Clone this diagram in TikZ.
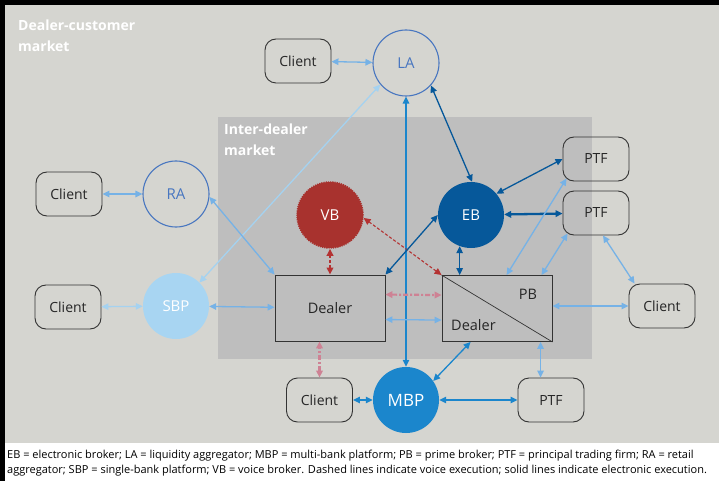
\documentclass[tikz,border=0pt]{standalone}
\usepackage{fontspec}
\setmainfont{Open Sans}
\usetikzlibrary{arrows.meta,calc}
\definecolor{outergray}{RGB}{213,213,208}
\definecolor{innergray}{RGB}{190,190,190}
\definecolor{ebblue}{RGB}{6,88,154}
\definecolor{mbpblue}{RGB}{27,134,204}
\definecolor{sbpblue}{RGB}{168,213,242}
\definecolor{lablue}{RGB}{72,118,192}
\definecolor{arrblue}{RGB}{118,178,230}
\definecolor{paleblue}{RGB}{165,210,240}
\definecolor{vbred}{RGB}{168,50,46}
\definecolor{voicered}{RGB}{180,50,50}
\definecolor{voicepink}{RGB}{206,130,148}
\tikzset{client/.style={draw=black!80,line width=0.9pt,rounded corners=11pt,minimum width=66pt,minimum height=44pt,
    inner sep=0pt,font=\fontsize{14}{16}\selectfont,text=black!85},
  hub/.style={circle,minimum size=66pt,inner sep=0pt,font=\fontsize{15}{17}\selectfont},
  ring/.style={hub,draw=lablue,line width=1.1pt,text=lablue},
  hubfill/.style={hub,text=white},
  vb/.style={hubfill,fill=vbred,draw=vbred,line width=1.5pt,dash pattern=on 1.2pt off 1pt},
  dealerbox/.style={draw=black!80,line width=0.9pt,fill=innergray,minimum width=110pt,minimum height=66pt,
    inner sep=0pt,font=\fontsize{14.5}{16}\selectfont,text=black!85},
  market/.style={font=\bfseries\fontsize{14}{20.5}\selectfont,text=white,align=left,anchor=north west,inner sep=0pt},
  caption/.style={anchor=west,inner sep=0pt,font=\fontsize{11}{12}\selectfont,text=black},
  link/.style={{Triangle[length=7pt,width=6.5pt]}-{Triangle[length=7pt,width=6.5pt]},line width=1.3pt},
  voice/.style={link,line width=2pt,dash pattern=on 3pt off 2pt},
  voicedash/.style={link,line width=2.2pt,dash pattern=on 5pt off 2pt on 2pt off 2pt}}

\begin{document}
\begin{tikzpicture}[x=1pt,y=-1pt]
\useasboundingbox (0,0) rectangle (719,481);
\fill[black] (0,0) rectangle (719,481);
\fill[white] (5,5) rectangle (719,481);
\fill[outergray] (5,5) rectangle (719,443);
\fill[innergray] (218,117) rectangle (592,359);
\node[market] (dc) at (18,20) {Dealer-customer\\market};
\node[market] (id) at (224,124) {Inter-dealer\\market};
% platforms and brokers
\node[client] (cl1) at (298,61) {Client};
\node[ring] (LA) at (406,63) {LA};
\node[client] (cl2) at (69,194) {Client};
\node[ring] (RA) at (176,194) {RA};
\node[vb] (VB) at (330,215) {VB};
\node[hubfill,fill=ebblue] (EB) at (471,215) {EB};
\node[client] (ptf1) at (596,159) {PTF};
\node[client] (ptf2) at (596,213) {PTF};
\node[client] (cl3) at (68,307) {Client};
\node[hubfill,fill=sbpblue] (SBP) at (176,306) {SBP};
\node[dealerbox] (D) at (330,308) {Dealer};
\node[dealerbox] (PB) at (497,308.5) {};
\draw[black!80,line width=0.7pt] (PB.north west) -- (PB.south east);
\node[font=\fontsize{14.5}{16}\selectfont,text=black!85] (pbl) at (528,294) {PB};
\node[font=\fontsize{14.5}{16}\selectfont,text=black!85,anchor=west,inner sep=0pt] (pbd) at (451,325) {Dealer};
\node[client] (cl4) at (662,306) {Client};
\node[client] (cl5) at (319.5,400) {Client};
\node[hubfill,fill=mbpblue,font=\fontsize{17}{19}\selectfont] (MBP) at (406,400) {MBP};
\node[client] (ptf3) at (551,400) {PTF};
% connectors
\draw[link,arrblue] (cl1) -- (LA);
\draw[link,ebblue] (LA.-42) -- (EB.88);
\draw[link,mbpblue] (LA) -- (MBP);
\draw[link,paleblue] (SBP.45) -- (LA.220);
\draw[link,arrblue] (cl2) -- (RA);
\draw[link,arrblue] (RA.-5) -- (D.north west);
\draw[link,paleblue] (cl3) -- (SBP);
\draw[link,arrblue] (SBP) -- (D);
\draw[voice,voicered] (VB) -- (D);
\draw[link,voicered,line width=1.1pt,dash pattern=on 3pt off 2pt] (VB.-5) -- (PB.north west);
\draw[link,ebblue] (EB.west) -- (D.north east);
\draw[link,ebblue] (EB.250) -- (EB.250 |- PB.north);
\draw[link,ebblue] (EB.40) -- (ptf1.west);
\draw[link,ebblue,line width=2.3pt] (EB) -- (ptf2);
\draw[link,arrblue] ($(PB.north west)+(65,0)$) -- ($(ptf1.south west)+(4,-3)$);
\draw[link,arrblue] ($(PB.north west)+(100,0)$) -- ($(ptf2.south west)+(5,-2)$);
\draw[link,arrblue] ($(ptf2.south)+(7,0)$) -- ($(cl4.north west)+(6,0)$);
\draw[link,arrblue] (cl4.west -| PB.east) -- (cl4.west);
\draw[voicedash,voicepink] ($(D.north east)+(0,20)$) -- ($(PB.north west)+(0,20)$);
\draw[link,arrblue] ($(D.north east)+(0,45)$) -- ($(PB.north west)+(0,45)$);
\draw[voicedash,voicepink] (cl5.north) -- (cl5.north |- D.south);
\draw[link,mbpblue] (cl5) -- (MBP);
\draw[link,mbpblue] (MBP.35) -- ($(PB.south west)+(29,0)$);
\draw[link,mbpblue] (MBP) -- (ptf3);
\draw[link,arrblue] ($(PB.south west)+(99,0)$) -- ($(ptf3.north west)+(23,0)$);
% note below
\node[caption] (cap1) at (7,456) {EB = electronic broker; LA = liquidity aggregator; MBP = multi-bank platform; PB = prime broker; PTF = principal trading firm; RA = retail};
\node[caption] (cap2) at (7,471) {aggregator; SBP = single-bank platform; VB = voice broker. Dashed lines indicate voice execution; solid lines indicate electronic execution.};
\end{tikzpicture}
\end{document}
